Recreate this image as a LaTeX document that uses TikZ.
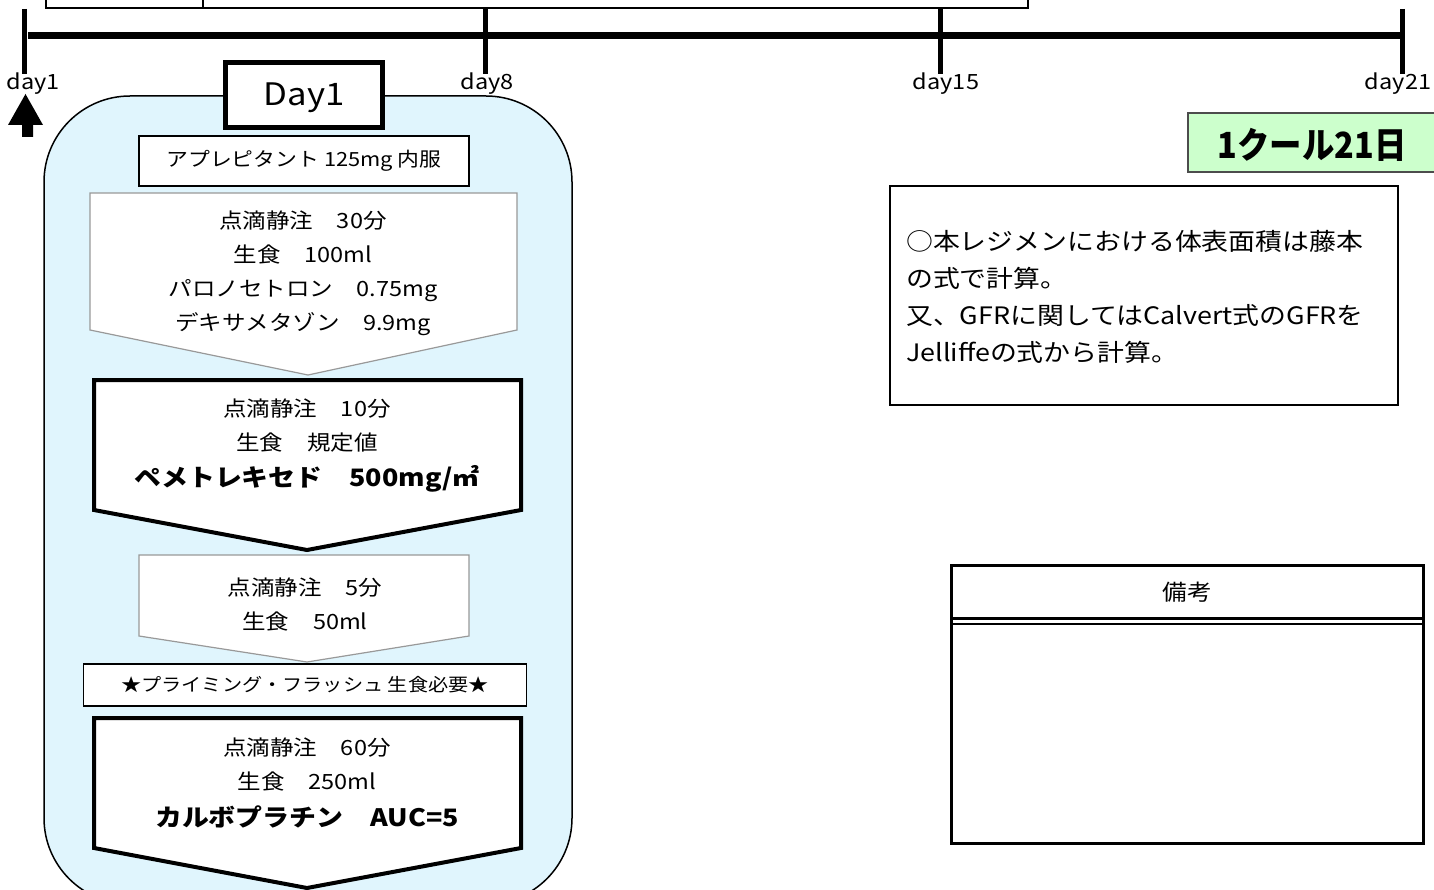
\documentclass[tikz,border=0pt]{standalone}
\usepackage{fontspec}
\setmainfont{Noto Sans CJK JP}[FakeStretch=1.12]
\newfontfamily\condfont{Noto Sans CJK JP}[FakeStretch=0.9]
\tikzset{
 thinbox/.style={draw=black, line width=1.5pt, fill=white},
 thickbox/.style={draw=black, line width=5pt, fill=white},
 grayarrow/.style={draw=gray!80, line width=1.2pt, fill=white, line join=miter},
 blackarrow/.style={draw=black, line width=4pt, fill=white, line join=miter},
 flowtext/.style={align=center, inner sep=0pt, font=\fontsize{21}{34}\selectfont},
 boldtext/.style={inner sep=0pt, font=\fontsize{24}{30}\selectfont\bfseries},
 daylabel/.style={inner sep=0pt, font=\fontsize{21}{25}\selectfont},
}

\begin{document}
\begin{tikzpicture}[x=1pt, y=-1pt]
    \useasboundingbox (0,0) rectangle (1434,890);

    % table cut at the top
    \draw[line width=2pt] (46,-10) rectangle (1028,8);
    \draw[line width=2pt] (203,-10) -- (203,8);

    % timeline
    \draw[line width=7pt] (28,36) -- (1403,36);
    \foreach \x/\d/\dx in {24/1/9, 485/8/2, 940/15/6, 1402/21/-4} {
        \draw[line width=5pt] (\x,9) -- (\x,74);
        \node[daylabel] (day\d) at (\x+\dx,84) {day\d};
    }
    \fill (8,125) -- (25.5,94) -- (43,125) -- (33,125) -- (33,137) -- (22,137) -- (22,125) -- cycle;

    % day 1 frame
    \draw[line width=1.5pt, fill=cyan!12, rounded corners=86pt] (44,96) rectangle (572,904);
    \draw[thickbox] (225.5,62.5) rectangle (382.5,127.5);
    \node[inner sep=0pt, font=\fontsize{31}{31}\selectfont] (dayone) at (304,98) {Day1};

    \node[thinbox, minimum width=330pt, minimum height=50pt, font=\fontsize{19.5}{24}\selectfont] (aprepitant) at (304,161) {アプレピタント 125mg 内服};

    \draw[grayarrow] (90,193) -- (517,193) -- (517,330) -- (308,375) -- (90,330) -- cycle;
    \node[flowtext] (palono) at (303,273) {点滴静注　30分\\生食　100ml\\パロノセトロン　0.75mg\\デキサメタゾン　9.9mg};

    \draw[blackarrow] (94,380) -- (521,380) -- (521,510) -- (307,550) -- (94,510) -- cycle;
    \node[flowtext] (pemedrip) at (307,426) {点滴静注　10分\\生食　規定値};
    \node[boldtext] (pemetrexed) at (307,479) {ペメトレキセド　500mg/㎡};

    \draw[grayarrow] (139,555) -- (469,555) -- (469,636) -- (307,662) -- (139,636) -- cycle;
    \node[flowtext] (flush) at (305,604) {点滴静注　5分\\生食　50ml};

    \node[thinbox, minimum width=443pt, minimum height=42pt, font=\fontsize{18}{24}\selectfont] (priming) at (305,685) {★プライミング・フラッシュ 生食必要★};

    \draw[blackarrow] (94,718) -- (521,718) -- (521,848) -- (307,888) -- (94,848) -- cycle;
    \node[flowtext] (carbodrip) at (307,764) {点滴静注　60分\\生食　250ml};
    \node[boldtext] (carboplatin) at (307,817) {カルボプラチン　AUC=5};

    % cycle length
    \draw[draw=black!70, line width=1.5pt, fill=green!20] (1188,113) rectangle (1440,172);
    \node[inner sep=0pt, font=\condfont\fontsize{36}{36}\selectfont\bfseries] (cycle) at (1312,145) {1クール21日};

    % notes on the formulas
    \node[draw, line width=1.5pt, minimum width=508pt, minimum height=219pt] (formula) at (1144,295.5) {};
    \node[anchor=north west, align=left, inner sep=0pt, font=\fontsize{24}{37}\selectfont] (formulatext) at (906,230) {○本レジメンにおける体表面積は藤本\\の式で計算。\\又、GFRに関してはCalvert式のGFRを\\Jelliffeの式から計算。};

    % remarks
    \draw[line width=3pt] (951,565) rectangle (1423,843);
    \draw[line width=3pt] (951,618) -- (1423,618);
    \draw[line width=2pt] (951,624) -- (1423,624);
    \node[inner sep=0pt, font=\fontsize{22}{26}\selectfont] (remarks) at (1187,592) {備考};
\end{tikzpicture}
\end{document}
